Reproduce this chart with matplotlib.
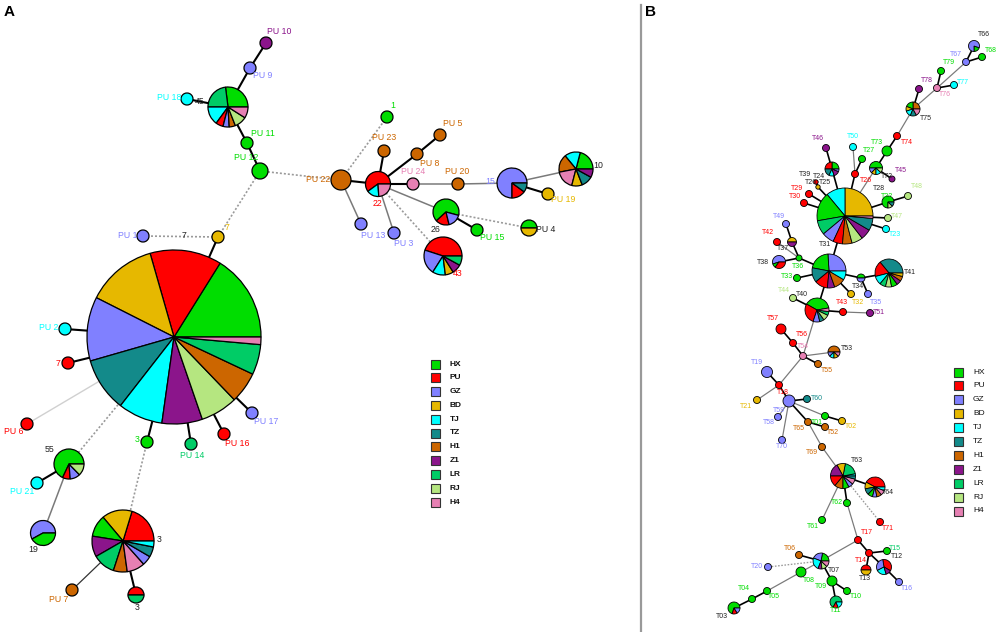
import matplotlib
matplotlib.use("Agg")
import matplotlib.pyplot as plt
from matplotlib.patches import Rectangle

plt.rcParams['font.family'] = ['Liberation Sans', 'DejaVu Sans']

# ---------------- data ----------------
POPS = ['HX', 'PU', 'GZ', 'BD', 'TJ', 'TZ', 'H1', 'Z1', 'LR', 'RJ', 'H4']
POP_COLORS = ['#00dd00', '#ff0000', '#8080ff', '#e6b800', '#00ffff', '#138a8a',
              '#cc6600', '#8b158b', '#00cc66', '#b5e680', '#e680b3']
COL = dict(zip(POPS, POP_COLORS))
COL['k'] = '#222222'

# haplotype composition (population, share), panel A
A_COMP = {
    'big': [('HX', .161), ('PU', .133), ('BD', .131), ('GZ', .119), ('TZ', .10), ('TJ', .083),
            ('Z1', .075), ('RJ', .069), ('H1', .058), ('LR', .056), ('H4', .014)],
    'p45': [('HX', .27), ('LR', .23), ('TJ', .15), ('PU', .06), ('GZ', .05), ('H1', .05),
            ('RJ', .10), ('H4', .09)],
    'PU10': [('Z1', 1)], 'PU9': [('GZ', 1)], 'PU18': [('TJ', 1)], 'PU11': [('HX', 1)],
    'PU12': [('HX', 1)], 'y7': [('BD', 1)], 'PU1': [('GZ', 1)], 'PU2': [('TJ', 1)],
    'r7': [('PU', 1)], 'PU6': [('PU', 1)], 'g3': [('HX', 1)], 'PU14': [('LR', 1)],
    'PU16': [('PU', 1)], 'PU17': [('GZ', 1)],
    'p55': [('HX', .68), ('PU', .083), ('GZ', .11), ('RJ', .127)],
    'PU21': [('TJ', 1)],
    'p19': [('GZ', .58), ('HX', .42)],
    'p3': [('PU', .203), ('BD', .158), ('HX', .114), ('Z1', .108), ('LR', .117), ('H1', .072),
           ('H4', .094), ('GZ', .05), ('TZ', .053), ('TJ', .031)],
    'PU7': [('H1', 1)],
    'p3b': [('PU', .5), ('LR', .5)],
    'g1': [('HX', 1)], 'PU22': [('H1', 1)],
    'p22': [('PU', .6), ('TJ', .16), ('H4', .24)],
    'PU23': [('H1', 1)], 'PU8': [('H1', 1)], 'PU5': [('H1', 1)], 'PU24': [('H4', 1)],
    'PU20': [('H1', 1)],
    'p15': [('GZ', .75), ('PU', .15), ('TZ', .10)],
    'p10': [('HX', .21), ('TJ', .15), ('H1', .17), ('H4', .18), ('BD', .10), ('TZ', .11), ('Z1', .08)],
    'PU19': [('BD', 1)],
    'p26': [('HX', .66), ('PU', .17), ('GZ', .17)],
    'PU15': [('HX', 1)],
    'PU4': [('HX', .5), ('BD', .5)],
    'p43': [('PU', .45), ('GZ', .21), ('TJ', .11), ('BD', .07), ('Z1', .08), ('LR', .08)],
    'PU13': [('GZ', 1)], 'PU3': [('GZ', 1)],
}

# panel B
B_COMP = {
    'T66': [('HX', .2), ('GZ', .8)], 'T67': [('GZ', 1)], 'T68': [('HX', 1)], 'T79': [('HX', 1)],
    'T77': [('TJ', 1)], 'T78': [('Z1', 1)], 'T76': [('H4', 1)],
    'T75': [('H1', .25), ('HX', .19), ('BD', .11), ('TJ', .14), ('TZ', .14), ('H4', .17)],
    'T74': [('PU', 1)], 'T73': [('HX', 1)],
    'T72': [('HX', .5), ('GZ', .13), ('BD', .12), ('TJ', .13), ('RJ', .12)],
    'T45': [('Z1', 1)], 'T50': [('TJ', 1)], 'T27': [('HX', 1)], 'T26': [('PU', 1)],
    'T46': [('Z1', 1)],
    'T46p': [('HX', .25), ('PU', .25), ('TZ', .18), ('TJ', .12), ('Z1', .14), ('GZ', .06)],
    'T24': [('PU', 1)], 'T25': [('BD', 1)], 'T29': [('PU', 1)], 'T30': [('PU', 1)],
    'T31': [('BD', .25), ('TJ', .11), ('HX', .167), ('LR', .083), ('GZ', .07), ('PU', .055),
            ('H1', .055), ('RJ', .064), ('Z1', .061), ('TZ', .07), ('H4', .014)],
    'T22': [('HX', .75), ('RJ', .13), ('TZ', .12)],
    'T48': [('RJ', 1)], 'T47': [('RJ', 1)], 'T23': [('TJ', 1)], 'T49': [('GZ', 1)],
    'T42': [('PU', 1)], 'T37': [('BD', .5), ('Z1', .5)],
    'T38': [('GZ', .55), ('HX', .10), ('PU', .35)],
    'T36': [('HX', 1)], 'T33': [('HX', 1)],
    'T34b': [('GZ', .26), ('HX', .21), ('TZ', .14), ('PU', .125), ('Z1', .07), ('H1', .11), ('TJ', .085)],
    'T34': [('HX', .5), ('GZ', .5)],
    'T41': [('TZ', .36), ('PU', .18), ('TJ', .10), ('LR', .07), ('RJ', .07), ('HX', .07),
            ('Z1', .055), ('H1', .055), ('BD', .04)],
    'T32': [('BD', 1)], 'T35': [('GZ', 1)], 'T44': [('RJ', 1)],
    'T40': [('HX', .39), ('PU', .28), ('GZ', .09), ('TZ', .06), ('RJ', .08), ('LR', .05), ('H4', .05)],
    'T43': [('PU', 1)], 'T51': [('Z1', 1)], 'T57': [('PU', 1)], 'T56': [('PU', 1)],
    'T54': [('H4', 1)], 'T55': [('H1', 1)],
    'T53': [('H1', .5), ('GZ', .125), ('TJ', .125), ('BD', .125), ('H4', .125)],
    'T19': [('GZ', 1)], 'T18': [('PU', 1)], 'T21': [('BD', 1)], 'T59': [('GZ', 1)],
    'T60': [('TZ', 1)], 'T58': [('GZ', 1)], 'T70': [('GZ', 1)], 'T01': [('HX', 1)],
    'T02': [('BD', 1)], 'T65': [('H1', 1)], 'T52': [('H1', 1)], 'T69': [('H1', 1)],
    'T63': [('TJ', .03), ('LR', .19), ('BD', .11), ('Z1', .17), ('PU', .14), ('H1', .11),
            ('HX', .08), ('GZ', .06), ('H4', .07), ('TZ', .04)],
    'T64': [('PU', .42), ('BD', .11), ('TZ', .10), ('HX', .08), ('GZ', .07), ('H1', .08),
            ('H4', .08), ('TJ', .06)],
    'T62': [('HX', 1)], 'T61': [('HX', 1)], 'T71': [('PU', 1)], 'T17': [('PU', 1)],
    'T14': [('PU', 1)], 'T15': [('HX', 1)],
    'T12': [('PU', .36), ('GZ', .30), ('TJ', .22), ('Z1', .12)],
    'T16': [('GZ', 1)], 'T13': [('PU', .5), ('BD', .5)], 'T06': [('H1', 1)],
    'T07': [('HX', .22), ('GZ', .22), ('TJ', .25), ('Z1', .08), ('RJ', .11), ('H4', .12)],
    'T20': [('GZ', 1)], 'T08': [('HX', 1)], 'T09': [('HX', 1)], 'T10': [('HX', 1)],
    'T11': [('LR', .67), ('PU', .14), ('TJ', .19)],
    'T03': [('HX', .7), ('PU', .14), ('GZ', .16)],
    'T04': [('HX', 1)], 'T05': [('HX', 1)],
}

# ---------------- layout (pixel coords x, y, radius, start angle) ----------------
A_LAYOUT = {
    'big': (174, 337, 87, 0), 'p45': (228, 107, 20, 0), 'PU10': (266, 43, 6, 0),
    'PU9': (250, 68, 6, 0), 'PU18': (187, 99, 6, 0), 'PU11': (247, 143, 6, 0),
    'PU12': (260, 171, 8, 0), 'y7': (218, 237, 6, 0), 'PU1': (143, 236, 6, 0),
    'PU2': (65, 329, 6, 0), 'r7': (68, 363, 6, 0), 'PU6': (27, 424, 6, 0),
    'g3': (147, 442, 6, 0), 'PU14': (191, 444, 6, 0), 'PU16': (224, 434, 6, 0),
    'PU17': (252, 413, 6, 0), 'p55': (69, 464, 15, 0), 'PU21': (37, 483, 6, 0),
    'p19': (43, 533, 12.5, 0), 'p3': (123, 541, 31, 0), 'PU7': (72, 590, 6, 0),
    'p3b': (136, 595, 8, 0), 'g1': (387, 117, 6, 0), 'PU22': (341, 180, 10, 0),
    'p22': (378, 184, 12.5, 0), 'PU23': (384, 151, 6, 0), 'PU8': (417, 154, 6, 0),
    'PU5': (440, 135, 6, 0), 'PU24': (413, 184, 6, 0), 'PU20': (458, 184, 6, 0),
    'p15': (512, 183, 15, 0), 'p10': (576, 169, 17, 0), 'PU19': (548, 194, 6, 0),
    'p26': (446, 212, 13, -15), 'PU15': (477, 230, 6, 0), 'PU4': (529, 228, 8, 0),
    'p43': (443, 256, 19, 0), 'PU13': (361, 224, 6, 0), 'PU3': (394, 233, 6, 0),
}
A_EDGES = [
    ('p45', 'PU9', 'k'), ('PU9', 'PU10', 'k'), ('PU18', 'p45', 'k'), ('p45', 'PU11', 'k'),
    ('PU11', 'PU12', 'k'), ('PU12', 'PU22', 'd'), ('PU12', 'y7', 'd'), ('PU1', 'y7', 'd'),
    ('y7', 'big', 'k'), ('big', 'PU2', 'k'), ('big', 'r7', 'k'), ('big', 'PU6', 'l'),
    ('big', 'g3', 'k'), ('big', 'PU14', 'k'), ('big', 'PU16', 'k'), ('big', 'PU17', 'k'),
    ('big', 'p55', 'd'), ('p55', 'PU21', 'k'), ('p55', 'p19', 'g'), ('g3', 'p3', 'd'),
    ('p3', 'PU7', 't'), ('p3', 'p3b', 'k'), ('PU22', 'g1', 'd'), ('PU22', 'p22', 'k'),
    ('PU22', 'PU13', 'g'), ('p22', 'PU23', 'k'), ('p22', 'PU8', 'k'), ('PU8', 'PU5', 'k'),
    ('p22', 'PU24', 'k'), ('PU24', 'PU20', 'g'), ('PU20', 'p15', 'g'), ('p15', 'p10', 'g'),
    ('p15', 'PU19', 'k'), ('p22', 'p26', 'g'), ('p22', 'p43', 'd'), ('p22', 'PU3', 'g'),
    ('p26', 'PU15', 'k'), ('p26', 'PU4', 'd'),
]
A_LABELS = [
    ('PU 10', 'Z1', 279, 32), ('PU 9', 'GZ', 263, 75), ('PU 18', 'TJ', 169, 97),
    ('45', 'k', 200, 102), ('PU 11', 'HX', 263, 134), ('PU 12', 'HX', 246, 157),
    ('PU 22', 'H1', 318, 179), ('7', 'BD', 227, 227), ('PU 1', 'GZ', 128, 235),
    ('7', 'k', 184, 236), ('PU 2', 'TJ', 49, 328), ('7', 'PU', 58, 364),
    ('PU 6', 'PU', 14, 432), ('3', 'HX', 137, 440), ('PU 14', 'LR', 192, 455),
    ('PU 16', 'PU', 237, 444), ('PU 17', 'GZ', 266, 422), ('55', 'k', 50, 449),
    ('PU 21', 'TJ', 22, 491), ('19', 'k', 33, 549), ('3', 'k', 159, 540),
    ('PU 7', 'H1', 59, 599), ('3', 'k', 137, 608), ('1', 'HX', 393, 105),
    ('PU 23', 'H1', 384, 138), ('PU 5', 'H1', 453, 124), ('PU 8', 'H1', 430, 163),
    ('PU 24', 'H4', 413, 171), ('PU 20', 'H1', 457, 171), ('15', 'GZ', 490, 181),
    ('10', 'k', 598, 165), ('PU 19', 'BD', 563, 200), ('22', 'PU', 377, 203),
    ('26', 'k', 436, 230), ('PU 15', 'HX', 492, 237), ('PU 4', 'k', 546, 230),
    ('PU 13', 'GZ', 373, 235), ('PU 3', 'GZ', 404, 243), ('43', 'PU', 458, 273),
]

B_LAYOUT = {
    'T66': (974, 46, 5.5, -90), 'T67': (966, 62, 3.5, 0), 'T68': (982, 57, 3.5, 0),
    'T79': (941, 71, 3.5, 0), 'T77': (954, 85, 3.5, 0), 'T78': (919, 89, 3.5, 0),
    'T76': (937, 88, 3.5, 0), 'T75': (913, 109, 7, 0), 'T74': (897, 136, 3.5, 0),
    'T73': (887, 151, 5, 0), 'T72': (876, 168, 6.5, 0), 'T45': (892, 179, 3, 0),
    'T50': (853, 147, 3.5, 0), 'T27': (862, 159, 3.5, 0), 'T26': (855, 174, 3.5, 0),
    'T46': (826, 148, 3.5, 0), 'T46p': (832, 169, 7, 0), 'T24': (816, 182, 2.2, 0),
    'T25': (818, 187, 2.2, 0), 'T29': (809, 194, 3.5, 0), 'T30': (804, 203, 3.5, 0),
    'T31': (845, 216, 28, 0), 'T22': (888, 202, 6, 0), 'T48': (908, 196, 3.5, 0),
    'T47': (888, 218, 3.5, 0), 'T23': (886, 229, 3.5, 0), 'T49': (786, 224, 3.5, 0),
    'T42': (777, 242, 3.5, 0), 'T37': (792, 242, 4.5, 0), 'T38': (779, 262, 6.5, 0),
    'T36': (799, 258, 3, 0), 'T33': (797, 278, 3.5, 0), 'T34b': (829, 271, 17, 0),
    'T34': (861, 278, 4, 0), 'T41': (889, 273, 14, 0), 'T32': (851, 294, 3.5, 0),
    'T35': (868, 294, 3.5, 0), 'T44': (793, 298, 3.5, 0), 'T40': (817, 310, 12, 10),
    'T43': (843, 312, 3.5, 0), 'T51': (870, 313, 3.5, 0), 'T57': (781, 329, 5, 0),
    'T56': (793, 343, 3.5, 0), 'T54': (803, 356, 3.5, 0), 'T55': (818, 364, 3.5, 0),
    'T53': (834, 352, 6, 0), 'T19': (767, 372, 5.5, 0), 'T18': (779, 385, 3.5, 0),
    'T21': (757, 400, 3.5, 0), 'T59': (789, 401, 6, 0), 'T60': (807, 399, 3.5, 0),
    'T58': (778, 417, 3.5, 0), 'T70': (782, 440, 3.5, 0), 'T01': (825, 416, 3.5, 0),
    'T02': (842, 421, 3.5, 0), 'T65': (808, 422, 3.5, 0), 'T52': (825, 427, 3.5, 0),
    'T69': (822, 447, 3.5, 0), 'T63': (843, 476, 12.5, 0), 'T64': (875, 487, 10, 0),
    'T62': (847, 503, 3.5, 0), 'T61': (822, 520, 3.5, 0), 'T71': (880, 522, 3.5, 0),
    'T17': (858, 540, 3.5, 0), 'T14': (869, 553, 3.5, 0), 'T15': (887, 551, 3.5, 0),
    'T12': (884, 567, 7.5, -30), 'T16': (899, 582, 3.5, 0), 'T13': (866, 570, 5, 0),
    'T06': (799, 555, 3.5, 0), 'T07': (821, 561, 8, 0), 'T20': (768, 567, 3.5, 0),
    'T08': (801, 572, 5, 0), 'T09': (832, 581, 5, 0), 'T10': (847, 591, 3.5, 0),
    'T11': (836, 602, 6, 0), 'T03': (734, 608, 6, 0), 'T04': (752, 599, 3.5, 0),
    'T05': (767, 591, 3.5, 0),
}
B_EDGES = [
    ('T66', 'T67', 'k'), ('T67', 'T68', 'k'), ('T67', 'T76', 'g'), ('T76', 'T77', 'k'),
    ('T76', 'T79', 'k'), ('T76', 'T75', 'g'), ('T75', 'T78', 'k'), ('T75', 'T74', 'g'),
    ('T74', 'T73', 'k'), ('T73', 'T72', 'k'), ('T72', 'T45', 'k'), ('T72', 'T31', 'g'),
    ('T31', 'T26', 'k'), ('T26', 'T27', 'k'), ('T26', 'T50', 'g'), ('T31', 'T46p', 'k'),
    ('T46p', 'T46', 'k'), ('T31', 'T29', 'k'), ('T31', 'T30', 'k'), ('T31', 'T25', 'k'),
    ('T25', 'T24', 'k'), ('T31', 'T22', 'k'), ('T22', 'T48', 'k'), ('T31', 'T47', 'k'),
    ('T31', 'T23', 'k'), ('T31', 'T34b', 'k'), ('T34b', 'T36', 'k'), ('T36', 'T38', 'k'),
    ('T36', 'T37', 'k'), ('T37', 'T49', 'k'), ('T36', 'T42', 'g'), ('T34b', 'T33', 'k'),
    ('T34b', 'T34', 'k'), ('T34', 'T41', 'k'), ('T34', 'T35', 'k'), ('T34b', 'T32', 'k'),
    ('T34b', 'T40', 'k'), ('T40', 'T44', 'k'), ('T40', 'T43', 'k'), ('T43', 'T51', 'g'),
    ('T40', 'T54', 'g'), ('T54', 'T56', 'k'), ('T56', 'T57', 'k'), ('T54', 'T55', 'k'),
    ('T54', 'T53', 'g'), ('T54', 'T18', 'g'), ('T18', 'T19', 'k'), ('T18', 'T21', 'g'),
    ('T18', 'T59', 'k'), ('T59', 'T60', 'k'), ('T59', 'T58', 'g'), ('T59', 'T70', 'g'),
    ('T59', 'T01', 'g'), ('T01', 'T02', 'k'), ('T59', 'T65', 'k'), ('T65', 'T52', 'k'),
    ('T65', 'T69', 'g'), ('T69', 'T63', 'g'), ('T63', 'T64', 'k'), ('T63', 'T62', 'k'),
    ('T63', 'T61', 'g'), ('T63', 'T71', 'd'), ('T62', 'T17', 'g'), ('T17', 'T14', 'k'),
    ('T14', 'T15', 'k'), ('T14', 'T12', 'k'), ('T12', 'T16', 'k'), ('T14', 'T13', 'k'),
    ('T17', 'T07', 'g'), ('T07', 'T06', 'k'), ('T07', 'T20', 'd'), ('T07', 'T08', 'g'),
    ('T08', 'T05', 'g'), ('T05', 'T04', 'k'), ('T04', 'T03', 'k'), ('T07', 'T09', 'k'),
    ('T09', 'T10', 'k'), ('T09', 'T11', 'k'),
]
B_LABELS = [
    ('T66', 'k', 984, 35), ('T67', 'GZ', 956, 54), ('T68', 'HX', 991, 50), ('T79', 'HX', 949, 62),
    ('T77', 'TJ', 963, 83), ('T78', 'Z1', 927, 80), ('T76', 'H4', 945, 95), ('T75', 'k', 926, 118),
    ('T74', 'PU', 907, 142), ('T73', 'HX', 877, 142), ('T72', 'k', 887, 176), ('T45', 'Z1', 901, 171),
    ('T50', 'TJ', 853, 137), ('T27', 'HX', 869, 150), ('T26', 'PU', 866, 180), ('T46', 'Z1', 818, 138),
    ('T39', 'k', 805, 174), ('T24', 'k', 819, 177), ('T26', 'k', 811, 182), ('T25', 'k', 825, 183),
    ('T29', 'PU', 797, 188), ('T30', 'PU', 795, 197), ('T28', 'k', 879, 189), ('T22', 'HX', 887, 196),
    ('T48', 'RJ', 917, 187), ('T47', 'RJ', 897, 217), ('T23', 'TJ', 895, 234), ('T31', 'k', 825, 245),
    ('T49', 'GZ', 779, 216), ('T42', 'PU', 768, 233), ('T37', 'k', 783, 248), ('T38', 'k', 763, 262),
    ('T36', 'HX', 798, 266), ('T33', 'HX', 787, 277), ('T34', 'k', 858, 286), ('T41', 'k', 910, 273),
    ('T43', 'PU', 842, 302), ('T32', 'BD', 858, 302), ('T35', 'GZ', 876, 302), ('T44', 'RJ', 784, 290),
    ('T40', 'k', 802, 294), ('T51', 'Z1', 879, 313), ('T57', 'PU', 773, 318), ('T56', 'PU', 802, 334),
    ('T54', 'H4', 803, 346), ('T55', 'H1', 827, 371), ('T53', 'k', 847, 349), ('T19', 'GZ', 757, 362),
    ('T18', 'PU', 783, 392), ('T21', 'BD', 746, 406), ('T59', 'GZ', 779, 410), ('T60', 'TZ', 817, 398),
    ('T58', 'GZ', 769, 423), ('T70', 'GZ', 782, 447), ('T01', 'HX', 817, 422), ('T02', 'BD', 851, 427),
    ('T65', 'H1', 799, 429), ('T52', 'H1', 833, 433), ('T69', 'H1', 812, 453), ('T63', 'k', 857, 460),
    ('T64', 'k', 888, 493), ('T62', 'HX', 837, 503), ('T61', 'HX', 813, 527), ('T71', 'PU', 888, 528),
    ('T17', 'PU', 867, 532), ('T14', 'PU', 861, 560), ('T15', 'LR', 895, 548), ('T12', 'k', 897, 556),
    ('T16', 'GZ', 907, 588), ('T13', 'k', 865, 579), ('T06', 'H1', 790, 548), ('T07', 'k', 834, 571),
    ('T20', 'GZ', 757, 566), ('T08', 'HX', 809, 580), ('T09', 'HX', 821, 587), ('T10', 'HX', 856, 597),
    ('T11', 'HX', 836, 611), ('T05', 'HX', 774, 597), ('T04', 'HX', 744, 589), ('T03', 'k', 722, 616),
]

# ---------------- drawing ----------------
W, H = 1002, 632
fig = plt.figure(figsize=(W / 100, H / 100), dpi=100)
ax = fig.add_axes([0, 0, 1, 1])


def Y(py):
    return H - py


EDGE_STYLE = {
    'k': dict(color='black', lw=1.5, ls='-'),
    't': dict(color='#333333', lw=0.9, ls='-'),
    'g': dict(color='#7a7a7a', lw=1.1, ls='-'),
    'l': dict(color='#d0d0d0', lw=1.0, ls='-'),
    'd': dict(color='#9a9a9a', lw=1.2, ls=(0, (1.2, 1.2))),
}


def draw_panel(comp, layout, edges, labels, fs, edge_scale, pie_lw, bold=False):
    for a, b, st in edges:
        xa, ya = layout[a][:2]
        xb, yb = layout[b][:2]
        s = dict(EDGE_STYLE[st])
        s['lw'] = s['lw'] * edge_scale
        ax.plot([xa, xb], [Y(ya), Y(yb)], zorder=1, solid_capstyle='butt', **s)
    for name, parts in comp.items():
        x, y, r, sa = layout[name]
        fr = [p[1] for p in parts]
        cs = [COL[p[0]] for p in parts]
        wedges, *_ = ax.pie(fr, colors=cs, center=(x, Y(y)), radius=r, startangle=sa,
                            normalize=True, frame=True,
                            wedgeprops=dict(edgecolor='black', linewidth=pie_lw))
        for w in wedges:
            w.set_zorder(3)
    for txt, c, x, y in labels:
        ax.text(x, Y(y), txt, color=COL[c], fontsize=fs, ha='center', va='center',
                zorder=5, fontweight='bold' if bold else 'normal')


draw_panel(A_COMP, A_LAYOUT, A_EDGES, A_LABELS, 6.3, 1.0, 0.9)
draw_panel(B_COMP, B_LAYOUT, B_EDGES, B_LABELS, 5.0, 0.8, 0.6)

# legends
for i, (p, c) in enumerate(zip(POPS, POP_COLORS)):
    ya = 364 + i * 13.8
    ax.add_patch(Rectangle((431, Y(ya) - 4.5), 9, 9, facecolor=c, edgecolor='#333333', lw=0.8, zorder=3))
    ax.text(450, Y(ya), p, fontsize=6, fontweight='bold', ha='left', va='center', color='#111111')
    yb = 372 + i * 13.9
    ax.add_patch(Rectangle((954, Y(yb) - 4.5), 9, 9, facecolor=c, edgecolor='#333333', lw=0.8, zorder=3))
    ax.text(973, Y(yb), p, fontsize=6, ha='left', va='center', color='#111111')

# divider and panel letters
ax.plot([641, 641], [Y(5), Y(632)], color='#999999', lw=1.6)
ax.text(4, Y(12), 'A', fontsize=11, fontweight='bold', ha='left', va='center')
ax.text(645, Y(12), 'B', fontsize=11, fontweight='bold', ha='left', va='center')

ax.set_xlim(0, W)
ax.set_ylim(0, H)
ax.set_aspect('equal')
ax.axis('off')
fig.savefig('out.png', dpi=100)
